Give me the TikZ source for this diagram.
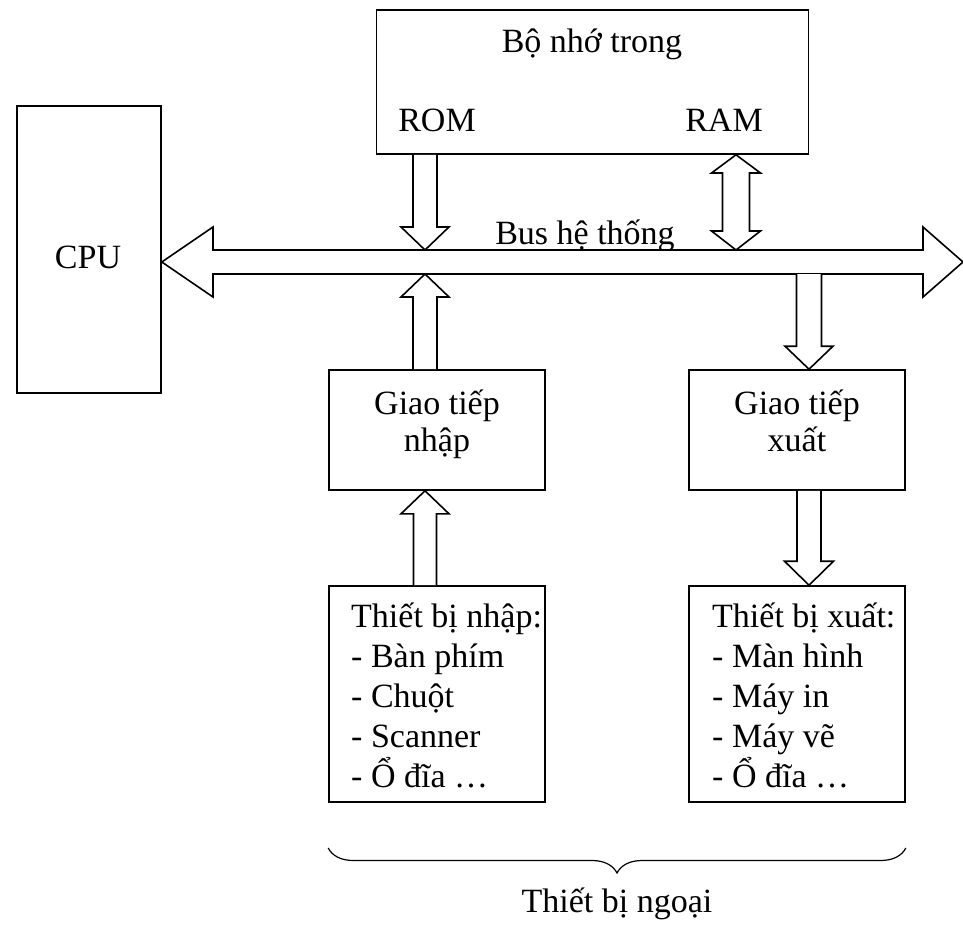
\documentclass[tikz,border=0pt]{standalone}
\usepackage{fontspec}
\setmainfont{Liberation Serif}
\usetikzlibrary{calc,decorations.pathreplacing}
\newcommand\vblockarrow[5]{%
  \draw[blk] let \p1=(#1), \p2=(#2), \n1={sign(\y1-\y2)*#5} in
    (\x1-#3pt,\y1) -- (\x1-#3pt,{\y2+\n1*1pt}) -- (\x1-#4pt,{\y2+\n1*1pt}) -- (\x2,\y2)
    -- (\x1+#4pt,{\y2+\n1*1pt}) -- (\x1+#3pt,{\y2+\n1*1pt}) -- (\x1+#3pt,\y1);}
\tikzset{
  box/.style={draw, line width=1.6pt, inner sep=0pt, rectangle},
  lbl/.style={font=\fontsize{34}{40}\selectfont, inner sep=0pt},
  blk/.style={draw, fill=white, line width=1.6pt, line join=miter},
}
\begin{document}
\begin{tikzpicture}[x=1pt,y=-1pt]
\useasboundingbox (0,0) rectangle (963,925);
% boxes
\node[box, minimum width=144pt, minimum height=287pt] (cpu) at (89,249.5) {};
\node[box, minimum width=432pt, minimum height=144pt] (mem) at (592.5,82) {};
\node[box, minimum width=216pt, minimum height=120pt] (gin) at (437,430) {};
\node[box, minimum width=216pt, minimum height=120pt] (gout) at (797,430) {};
\node[box, minimum width=216pt, minimum height=216pt] (din) at (437,694) {};
\node[box, minimum width=216pt, minimum height=216pt] (dout) at (797,694) {};
% texts
\node[lbl, anchor=base] (tcpu) at (88,269) {CPU};
\node[lbl, anchor=base] (tmem) at (592,53) {Bộ nhớ trong};
\node[lbl, anchor=base] (trom) at (437,132) {ROM};
\node[lbl, anchor=base] (tram) at (724,132) {RAM};
\node[lbl, anchor=base] (tbus) at (585,244) {Bus hệ thống};
\node[lbl, align=center, anchor=base] (tgin1) at (437,414) {Giao tiếp};
\node[lbl, align=center, anchor=base] (tgin2) at (437,451) {nhập};
\node[lbl, align=center, anchor=base] (tgout1) at (797,414) {Giao tiếp};
\node[lbl, align=center, anchor=base] (tgout2) at (797,451) {xuất};
\node[lbl, align=left, anchor=north west] (tdin) at (351,603) {Thiết bị nhập:\\- Bàn phím\\- Chuột\\- Scanner\\- Ổ đĩa …};
\node[lbl, align=left, anchor=north west] (tdout) at (712,603) {Thiết bị xuất:\\- Màn hình\\- Máy in\\- Máy vẽ\\- Ổ đĩa …};
% bus
\coordinate (busL) at (cpu.east |- 0,262);
\coordinate (busR) at (963,262);
\coordinate (busT) at (0,250);
\coordinate (busB) at (0,274);
\draw[blk] (busL) -- (213,227) -- (213,250) -- (923,250) -- (923,227) -- (busR)
  -- (923,297) -- (923,274) -- (213,274) -- (213,297) -- cycle;
% arrows
\coordinate (xin) at (425,0);
\coordinate (xram) at (736,0);
\coordinate (xout) at (809,0);
\vblockarrow{xin |- mem.south}{xin |- busT}{12}{24}{23}
\vblockarrow{xin |- gin.north}{xin |- busB}{12}{24}{23}
\vblockarrow{xout |- busB}{xout |- gout.north}{12.5}{24}{23}
\vblockarrow{xin |- din.north}{xin |- gin.south}{11.5}{24}{23}
\vblockarrow{xout |- gout.south}{xout |- dout.north}{12}{24.5}{24}
% RAM double arrow
\draw[blk] (xram |- mem.south) -- (760.5,173) -- (749.5,173) -- (749.5,231) -- (760.5,231)
  -- (xram |- busT) -- (711.5,231) -- (722.5,231) -- (722.5,173) -- (711.5,173) -- cycle;
% brace
\draw[line width=1.2pt, decorate, decoration={brace, mirror, amplitude=25pt}]
  (din.west |- 0,848) coordinate (brL) -- (dout.east |- 0,848) coordinate (brR);
\node[lbl, anchor=base] (tperi) at (617,912) {Thiết bị ngoại};
\end{tikzpicture}
\end{document}
